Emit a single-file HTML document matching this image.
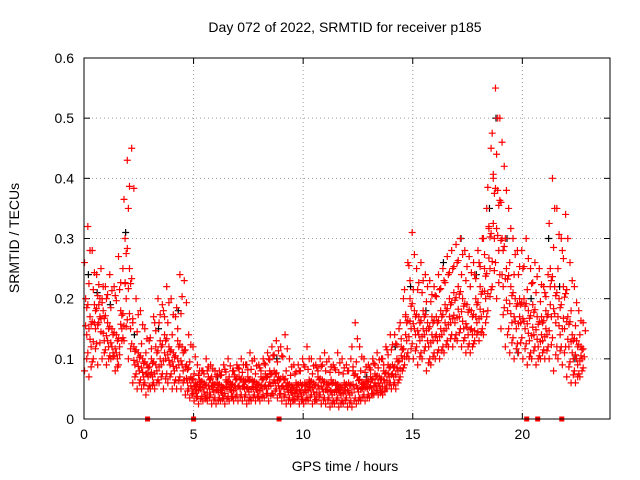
<!DOCTYPE html>
<html><head><meta charset="utf-8"><style>
body{margin:0;background:#fff}
svg{display:block;font-family:"Liberation Sans",sans-serif}
</style></head><body>
<svg id="chart" width="640" height="480" viewBox="0 0 640 480">
<text x="345" y="32" font-size="14" text-anchor="middle">Day 072 of 2022, SRMTID for receiver p185</text>
<text transform="translate(19,238) rotate(-90)" font-size="14" text-anchor="middle">SRMTID / TECUs</text>
<text x="345" y="471" font-size="14" text-anchor="middle">GPS time / hours</text>
<g id="grid"></g><g id="ticks"></g><g id="marks"></g>
<rect x="84" y="58" width="526" height="361" fill="none" stroke="#000" stroke-width="1"/>
</svg>
<script>
const xTicks=[0,5,10,15,20];
const yTicks=[0,0.1,0.2,0.3,0.4,0.5,0.6];
const yTickLabels=["0","0.1","0.2","0.3","0.4","0.5","0.6"];
const binStart=0.1, binStep=0.2;
const high=[.32,.28,.24,.25,.22, .24,.22,.27,.25,.43, .45,.2,.18,.15,.13, .17,.2,.19,.22,.2, .17,.24,.23,.14,.12,
.09,.08,.1,.09,.08, .08,.09,.1,.08,.09, .1,.09,.11,.1,.09, .1,.11,.12,.13,.12, .14,.1,.09,.09,.1,
.12,.1,.09,.1,.11, .1,.09,.11,.1,.09, .1,.16,.12,.1,.09, .1,.11,.1,.12,.14, .14,.15,.2,.26,.31,
.25,.26,.24,.23,.22, .24,.25,.27,.28,.29, .3,.28,.27,.26,.28, .3,.35,.45,.55,.5, .42,.35,.3,.28,.28,
.3,.25,.26,.25,.22, .24,.4,.35,.3,.34, .26,.22,.18,.16];
const mid1=[.2,.17,.19,.16,.18, .16,.15,.14,.18,.3, .25,.12,.11,.1,.09, .1,.12,.13,.14,.12, .11,.13,.12,.09,.07,
.06,.065,.06,.07,.06, .06,.055,.065,.06,.07, .07,.065,.07,.065,.06, .07,.075,.08,.08,.07, .07,.06,.055,.06,.06,
.06,.065,.06,.07,.065, .06,.065,.06,.055,.06, .06,.08,.07,.06,.065, .07,.075,.07,.08,.09, .09,.1,.12,.17,.2,
.18,.17,.18,.16,.17, .17,.18,.19,.2,.21, .22,.2,.19,.18,.2, .22,.25,.32,.4,.38, .3,.25,.22,.2,.2,
.2,.18,.19,.17,.17, .18,.25,.22,.2,.22, .17,.14,.13,.12];
const mid2=[.14,.12,.15,.2,.13, .12,.11,.1,.15,.2, .15,.09,.08,.07,.07, .07,.08,.09,.1,.09, .08,.09,.08,.06,.05,
.045,.05,.04,.05,.045, .045,.04,.05,.045,.05, .05,.05,.045,.05,.045, .05,.05,.055,.06,.05, .05,.045,.04,.045,.04,
.045,.05,.04,.05,.045, .045,.04,.045,.04,.045, .04,.05,.045,.05,.05, .05,.055,.05,.06,.07, .07,.08,.1,.13,.15,
.14,.13,.14,.12,.13, .13,.14,.15,.16,.16, .17,.15,.14,.14,.16, .17,.2,.25,.3,.28, .22,.18,.16,.15,.16,
.15,.13,.14,.12,.13, .14,.17,.16,.14,.15, .12,.1,.09,.1];
const low=[.08,.07,.1,.09,.1, .09,.1,.08,.12,.13, .1,.06,.05,.05,.04, .05,.05,.06,.05,.06, .05,.05,.05,.04,.035,
.03,.025,.03,.03,.025, .025,.03,.025,.03,.03, .03,.03,.025,.03,.03, .03,.035,.03,.04,.035, .03,.025,.025,.03,.025,
.025,.03,.025,.03,.025, .025,.02,.025,.02,.025, .02,.02,.025,.03,.03, .035,.04,.04,.04,.05, .05,.05,.07,.09,.1,
.1,.09,.1,.08,.09, .1,.1,.11,.12,.12, .13,.12,.11,.11,.13, .13,.14,.18,.22,.2, .15,.12,.11,.1,.11,
.1,.09,.1,.09,.1, .1,.1,.08,.1,.09, .07,.06,.06,.07];
const blackT=[0.2,0.6,1.2,1.9,2.3,3.4,4.3,6.1,7.4,8.8,10.3,11.6,12.9,14.2,14.9,15.6,16.4,17.2,17.9,18.5,18.8,19.3,19.8,20.4,21.2,21.7,22.4];
const blackV=[.24,.21,.19,.31,.14,.15,.18,.07,.09,.1,.06,.05,.07,.12,.22,.18,.26,.3,.24,.35,.5,.3,.11,.2,.3,.22,.1];
const markT=[2.9,5.0,8.9,20.2,20.7,21.8];

const X0=84,X1=610,Y0=419,Y1=58,XMAX=24,YMAX=0.6;
const xs=t=>X0+(X1-X0)*t/XMAX;
const ys=v=>Y0-(Y0-Y1)*v/YMAX;
const NS="http://www.w3.org/2000/svg";
function mk(tag,attrs,parent){const e=document.createElementNS(NS,tag);for(const k in attrs)e.setAttribute(k,attrs[k]);parent.appendChild(e);return e;}
const grid=document.getElementById('grid'),ticks=document.getElementById('ticks'),marks=document.getElementById('marks');
xTicks.forEach(t=>{const x=xs(t);
 if(t>0){const g=mk('line',{x1:x,y1:Y1,x2:x,y2:Y0,stroke:'#a0a0a0','stroke-dasharray':'1,3'},grid);
 
 }
 mk('line',{x1:x,y1:Y0,x2:x,y2:Y0-6,stroke:'#000'},ticks);
 mk('line',{x1:x,y1:Y1,x2:x,y2:Y1+6,stroke:'#000'},ticks);
 const l=mk('text',{x:x,y:Y0+20,'font-size':14,'text-anchor':'middle'},ticks);l.textContent=t;
 
 });
yTicks.forEach((v,i)=>{const y=ys(v);
 if(v>0&&v<YMAX){const g=mk('line',{x1:X0,y1:y,x2:X1,y2:y,stroke:'#a0a0a0','stroke-dasharray':'1,3'},grid);
 
 }
 mk('line',{x1:X0,y1:y,x2:X0+6,y2:y,stroke:'#000'},ticks);
 mk('line',{x1:X1,y1:y,x2:X1-6,y2:y,stroke:'#000'},ticks);
 const l=mk('text',{x:X0-10,y:y+5,'font-size':14,'text-anchor':'end'},ticks);l.textContent=yTickLabels[i];
 
 });
function cross(t,v,col,name){const x=xs(t),y=ys(v);
 const p=mk('path',{d:`M${x-3.5},${y}H${x+3.5}M${x},${y-3.5}V${y+3.5}`,stroke:col,'stroke-width':1.2,fill:'none'},marks);
 
 }
blackV.forEach((v,i)=>cross(blackT[i],v,'#000','black-point'));
[[low,-0.075],[mid2,0.025],[mid1,-0.025],[high,0.075]].forEach(([arr,off])=>{
 arr.forEach((v,i)=>{const t=binStart+binStep*i;
  cross(t+off,v,'#ff0000','red-point');
  const other=arr===high?mid1[i]:arr===low?mid2[i]:(mid1[i]+mid2[i])/2;
  cross(t-off,(v+other)/2,'#ff0000','red-point');
  cross(t+off+0.1,(v*2+other)/3,'#ff0000','red-point');});});
markT.forEach(t=>{const r=mk('rect',{x:xs(t)-2.5,y:Y0-2.5,width:5,height:5,fill:'#ff0000'},marks);
 
 });
</script>
</body></html>
